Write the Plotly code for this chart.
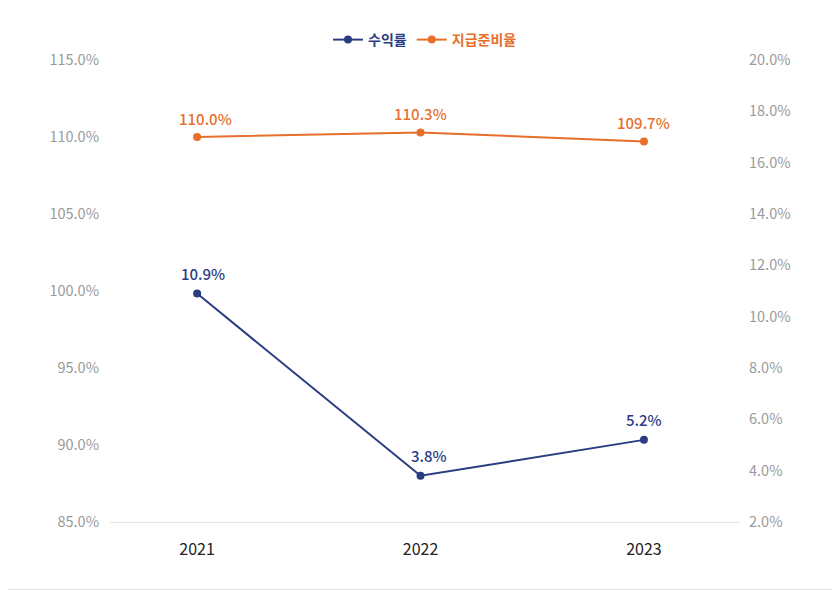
import plotly.graph_objects as go

years = ["2021", "2022", "2023"]
yield_rate = [10.9, 3.8, 5.2]          # 수익률 (right axis)
reserve_ratio = [110.0, 110.3, 109.7]  # 지급준비율 (left axis)
left_ticks = [85, 90, 95, 100, 105, 110, 115]
right_ticks = [2, 4, 6, 8, 10, 12, 14, 16, 18, 20]

BLUE = "#2b3d82"
ORANGE = "#e76f2b"
FONT = "Noto Sans CJK KR"

fig = go.Figure()
fig.add_trace(go.Scatter(
    x=years, y=yield_rate, yaxis="y2",
    name=f"<span style='color:{BLUE}'>수익률</span>",
    mode="lines+markers",
    line=dict(color=BLUE, width=2), marker=dict(size=8, color=BLUE),
))
fig.add_trace(go.Scatter(
    x=years, y=reserve_ratio, yaxis="y",
    name=f"<span style='color:{ORANGE}'>지급준비율</span>",
    mode="lines+markers",
    line=dict(color=ORANGE, width=2), marker=dict(size=8, color=ORANGE),
))

# small horizontal nudges of the value labels, as in the reference rendering
blue_xshift = [6, 8, 0]
orange_xshift = [8, 0, 0]

annotations = []
for i, v in enumerate(yield_rate):
    annotations.append(dict(x=i, y=v, xref="x", yref="y2", text=f"{v:.1f}%",
                            showarrow=False, yshift=20, xshift=blue_xshift[i],
                            font=dict(color=BLUE, size=15, family=FONT, weight=500)))
for i, v in enumerate(reserve_ratio):
    annotations.append(dict(x=i, y=v, xref="x", yref="y", text=f"{v:.1f}%",
                            showarrow=False, yshift=19, xshift=orange_xshift[i],
                            font=dict(color=ORANGE, size=15, family=FONT, weight=500)))

# page has an 8px body margin; compensate so the plot sits where the reference does
W, H = 832, 582
L, R, T, B = 102, 100, 52, 68
PW, PH = W - L - R, H - T - B

fig.update_layout(
    width=W, height=H,
    margin=dict(l=L, r=R, t=T, b=B),
    paper_bgcolor="white", plot_bgcolor="white",
    font=dict(family=FONT),
    showlegend=True,
    legend=dict(orientation="h", x=0.5, xanchor="center", y=1 + 4 / PH, yanchor="bottom",
                font=dict(size=14, family=FONT, weight=700),
                traceorder="normal", itemwidth=30),
    xaxis=dict(type="category", range=[-0.39, 2.43], showgrid=False,
               showline=True, linecolor="#e3e3e3", linewidth=1,
               ticks="", tickfont=dict(size=16, color="#222222", family=FONT),
               zeroline=False, ticklabelstandoff=13),
    yaxis=dict(range=[85, 115], tickvals=left_ticks,
               ticktext=[f"{v:.1f}%" for v in left_ticks],
               showgrid=False, zeroline=False, showline=False,
               tickfont=dict(size=14.5, color="#9a9a9a", family=FONT),
               ticklabelstandoff=10),
    yaxis2=dict(range=[2, 20], tickvals=right_ticks,
                ticktext=[f"{v:.1f}%" for v in right_ticks],
                overlaying="y", side="right",
                showgrid=False, zeroline=False, showline=False,
                tickfont=dict(size=14.5, color="#9a9a9a", family=FONT),
                ticklabelstandoff=8),
    annotations=annotations,
    shapes=[dict(type="rect", xref="paper", yref="paper",
                 x0=-(L + 7.5) / PW, x1=1 + (R - 0.5) / PW,
                 y0=-(B - 0.5) / PH, y1=1 + (T + 7.5) / PH,
                 line=dict(color="#e0e0e0", width=1))],
)

fig.update_traces(cliponaxis=False)
fig.write_html("out.html")
